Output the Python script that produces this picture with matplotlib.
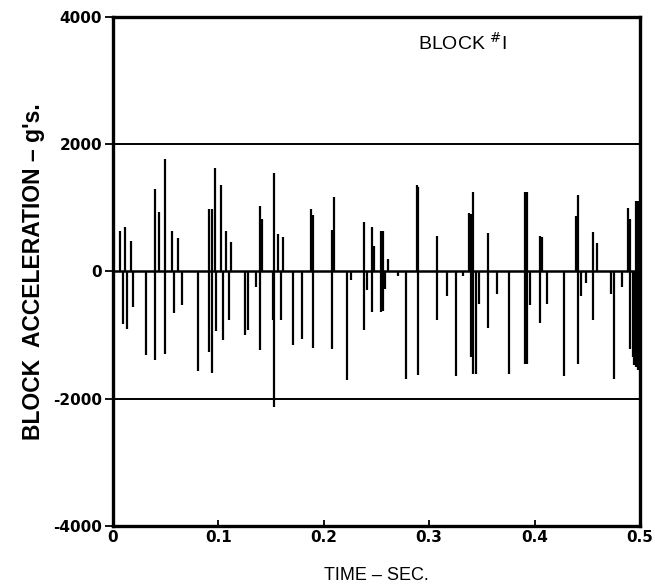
import matplotlib
matplotlib.use("Agg")
import matplotlib.pyplot as plt

# Positive acceleration peaks: time (s), acceleration (g's)
up_t = [0.0066, 0.0114, 0.0168, 0.0398, 0.0439, 0.0493, 0.0563, 0.0614,
        0.0911, 0.0937, 0.0971, 0.1022, 0.1072, 0.1117, 0.1395, 0.1417,
        0.1530, 0.1568, 0.1610, 0.1879, 0.1900, 0.2081, 0.2097, 0.2384,
        0.2454, 0.2476, 0.2543, 0.2559, 0.2606, 0.2881, 0.2897, 0.3071,
        0.3380, 0.3394, 0.3418, 0.3561, 0.3906, 0.3925, 0.4051, 0.4067,
        0.4390, 0.4415, 0.4557, 0.4595, 0.4883, 0.4905, 0.4962, 0.4981]
up_g = [644, 707, 487, 1298, 932, 1770, 633, 524,
        984, 984, 1628, 1366, 633, 460, 1037, 827,
        1545, 592, 539, 984, 895, 654, 1178, 785,
        707, 408, 644, 644, 199, 1366, 1325, 555,
        916, 910, 1246, 602, 1246, 1246, 565, 540,
        880, 1209, 618, 445, 1000, 827, 1115, 1115]

# Negative acceleration peaks: time (s), acceleration (g's)
down_t = [0.0092, 0.0130, 0.0187, 0.0310, 0.0398, 0.0493, 0.0582, 0.0657,
          0.0809, 0.0911, 0.0937, 0.0977, 0.1041, 0.1101, 0.1252, 0.1284,
          0.1354, 0.1395, 0.1521, 0.1530, 0.1591, 0.1711, 0.1790, 0.1900,
          0.2081, 0.2217, 0.2255, 0.2384, 0.2413, 0.2454, 0.2543, 0.2559,
          0.2581, 0.2701, 0.2777, 0.2897, 0.3071, 0.3172, 0.3254, 0.3324,
          0.3394, 0.3418, 0.3441, 0.3472, 0.3561, 0.3646, 0.3760, 0.3906,
          0.3925, 0.3956, 0.4051, 0.4120, 0.4282, 0.4415, 0.4437, 0.4485,
          0.4557, 0.4725, 0.4756, 0.4832, 0.4905, 0.4931, 0.4946, 0.4962,
          0.4981]
down_g = [-822, -900, -560, -1320, -1387, -1293, -654, -534,
          -1565, -1267, -1597, -937, -1084, -770, -1005, -927,
          -246, -1241, -770, -2131, -770, -1162, -1058, -1199,
          -1215, -1712, -141, -916, -298, -639, -639, -620,
          -272, -63, -1686, -1634, -759, -393, -1650, -63,
          -1345, -1607, -1607, -508, -885, -351, -1618, -1461,
          -1461, -534, -812, -508, -1650, -1450, -393, -183,
          -770, -351, -1686, -246, -1215, -1346, -1476, -1503,
          -1550]

x_ticks = [0, 0.1, 0.2, 0.3, 0.4, 0.5]
x_tick_labels = ["0", "0.1", "0.2", "0.3", "0.4", "0.5"]
y_ticks = [-4000, -2000, 0, 2000, 4000]
y_tick_labels = ["-4000", "-2000", "0", "2000", "4000"]

fig = plt.figure(figsize=(6.55, 5.86), dpi=100)
ax = fig.add_axes([0.1725, 0.1024, 0.8045, 0.8686])

# reference lines at 0 and +/-2000 g's
for yv in (-2000, 0, 2000):
    ax.axhline(yv, color="black", lw=1.4 if yv else 1.8, zorder=1)

ax.vlines(up_t, 0, up_g, colors="black", lw=1.6, zorder=2)
ax.vlines(down_t, down_g, 0, colors="black", lw=1.6, zorder=2)

ax.set_xlim(0, 0.5)
ax.set_ylim(-4000, 4000)
ax.set_xticks(x_ticks)
ax.set_xticklabels(x_tick_labels, fontsize=11, fontweight="bold",
                   family="DejaVu Sans")
ax.set_yticks(y_ticks)
ax.set_yticklabels(y_tick_labels, fontsize=11, fontweight="bold",
                   family="DejaVu Sans")
ax.tick_params(axis="y", direction="out", length=6, width=1.3, pad=2)
ax.tick_params(axis="x", direction="in", length=4, width=1.3, pad=3)

for s in ax.spines.values():
    s.set_linewidth(2.4)
    s.set_color("black")

ax.set_xlabel("TIME – SEC.", fontsize=13, family="Liberation Sans",
              labelpad=16)
ax.set_ylabel("BLOCK  ACCELERATION – g's.", fontsize=16.5,
              fontweight="bold", family="Liberation Sans", labelpad=6)

ax.text(0.579, 0.949, r"BLOCK $^{\#}$I", transform=ax.transAxes,
        fontsize=14, family="Liberation Sans", ha="left", va="center")

fig.savefig("out.png", dpi=100, facecolor="white")
